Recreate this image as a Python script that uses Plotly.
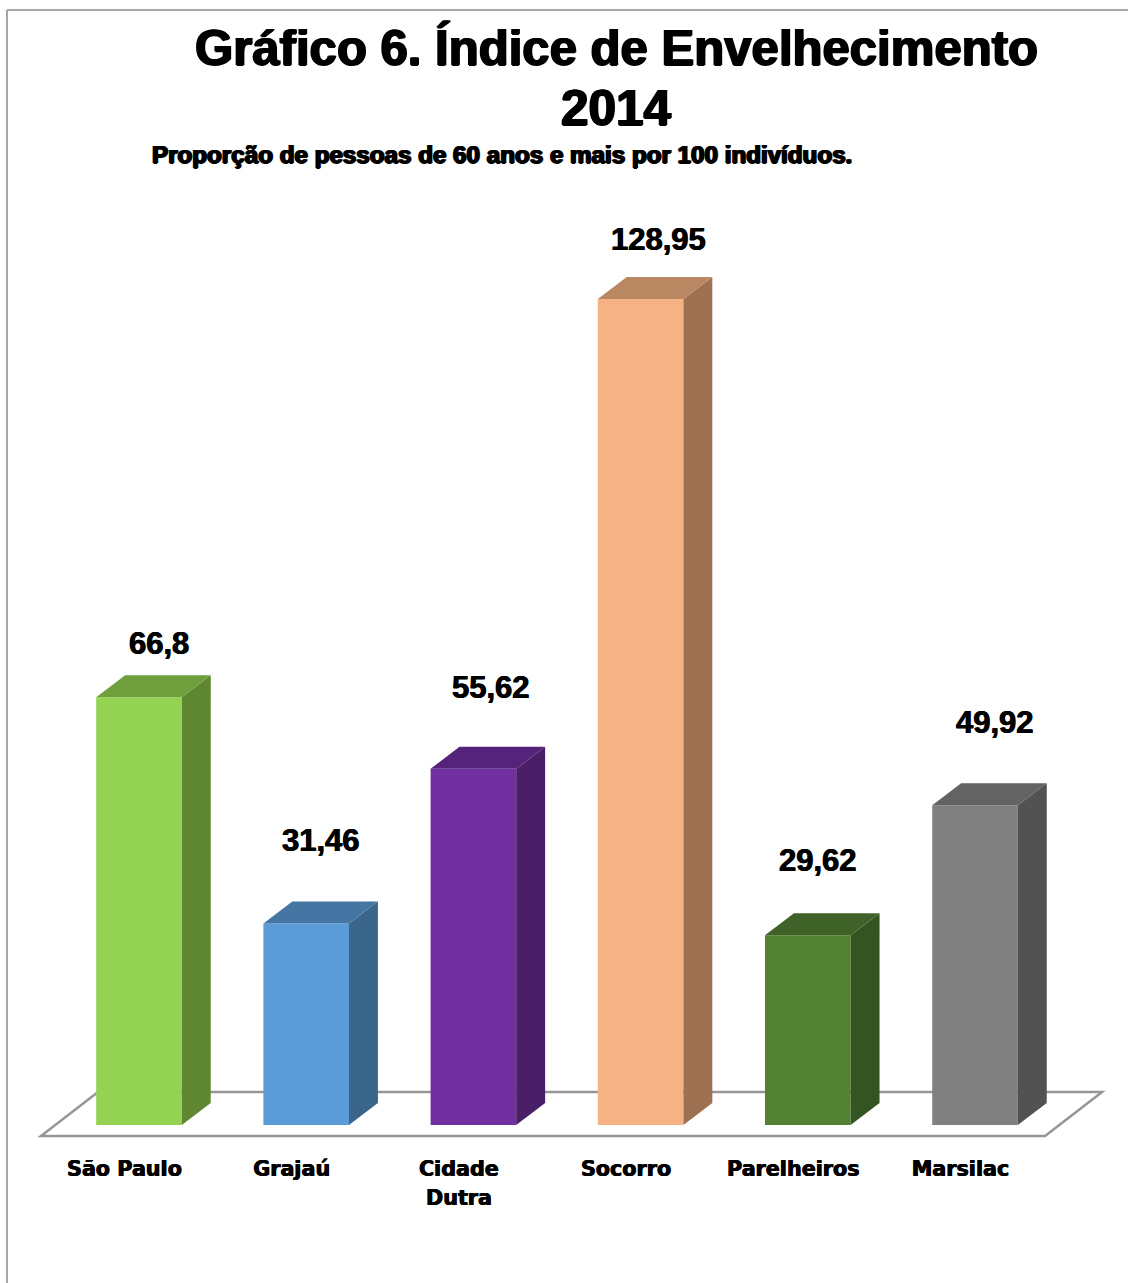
import plotly.graph_objects as go

# Chart data
categories = ["São Paulo", "Grajaú", "Cidade", "Socorro", "Parelheiros", "Marsilac"]
values = [66.8, 31.46, 55.62, 128.95, 29.62, 49.92]

front_colors = ["#94D351", "#5B9BD7", "#7030A0", "#F4B285", "#548235", "#808080"]
top_colors = ["#70A03D", "#4576A3", "#55247A", "#BA8763", "#3F6228", "#636363"]
side_colors = ["#5F8732", "#3A668C", "#4A1F67", "#9E7153", "#345522", "#525252"]

# Geometry of the extruded columns, in axis units
BAR_WIDTH = 0.512
DEPTH_X = 0.173
DEPTH_Y = 3.43
X_RANGE = [-0.8313, 5.915]
Y_RANGE = [-2.342, 175.64]

# Offsets of the value labels and axis labels, in pixels and axis units
label_dx = [20, 15, 18, 18, 10, 20]
label_dy = [54, 83, 81, 60, 75, 83]
tick_shift = -0.087

W, H = 1128, 1283
TXT = "black"
HEAVY = "1px 0 0 black, -1px 0 0 black, 0 0.5px 0 black"
MEDIUM = "0.5px 0 0 black, -0.5px 0 0 black"
AXIS_FONT = dict(family="DejaVu Sans", size=20.7, color=TXT, weight="bold", shadow=MEDIUM)

xs = list(range(len(categories)))
fig = go.Figure()

# Front faces
fig.add_trace(go.Bar(
    x=xs, y=values, width=BAR_WIDTH,
    marker=dict(color=front_colors, line=dict(width=0)),
    showlegend=False, hoverinfo="x+y",
))

# Side and top faces derived from each value
for x, v, top, side in zip(xs, values, top_colors, side_colors):
    r = x + BAR_WIDTH / 2
    l = x - BAR_WIDTH / 2
    fig.add_trace(go.Scatter(
        x=[r, r + DEPTH_X, r + DEPTH_X, r, r],
        y=[0, DEPTH_Y, v + DEPTH_Y, v, 0],
        mode="lines", fill="toself", fillcolor=side,
        line=dict(width=0), showlegend=False, hoverinfo="skip",
    ))
    fig.add_trace(go.Scatter(
        x=[l, r, r + DEPTH_X, l + DEPTH_X, l],
        y=[v, v, v + DEPTH_Y, v + DEPTH_Y, v],
        mode="lines", fill="toself", fillcolor=top,
        line=dict(width=0), showlegend=False, hoverinfo="skip",
    ))

# Value labels
annotations = []
for x, v, dx, dy in zip(xs, values, label_dx, label_dy):
    annotations.append(dict(
        x=x, y=v, xref="x", yref="y", xshift=dx, yshift=dy,
        text=str(v).replace(".", ","), showarrow=False,
        xanchor="center", yanchor="middle",
        font=dict(family="Liberation Sans", size=31, color=TXT, weight="bold",
                  shadow=MEDIUM),
    ))

# Title block
def page_text(text, cx, cy, size):
    return dict(
        x=cx / W, y=1 - cy / H, xref="paper", yref="paper", text=text,
        showarrow=False, xanchor="center", yanchor="middle",
        font=dict(family="Liberation Sans", size=size, color=TXT, weight="bold",
                  shadow=HEAVY),
    )

annotations += [
    page_text("Gráfico 6. Índice de Envelhecimento", 616.5, 48, 49.1),
    page_text("2014", 616, 108, 49.5),
    page_text("Proporção de pessoas de 60 anos e mais por 100 indivíduos.", 501.5, 155, 24.2),
]

# Second line of the wrapped category label
annotations.append(dict(
    x=2 + tick_shift, y=0, xref="x", yref="y", yshift=-73,
    text="Dutra", showarrow=False, xanchor="center", yanchor="middle",
    font=AXIS_FONT,
))

# Floor of the 3D plot, behind the columns
floor_y0, floor_y1 = -1.717, 5.152
floor_path = f"M -0.586 {floor_y0} L 5.419 {floor_y0} L 5.76 {floor_y1} L -0.245 {floor_y1} Z"

shapes = [
    dict(type="path", path=floor_path, xref="x", yref="y", layer="below",
         line=dict(color="#969696", width=2.5), fillcolor="white"),
    dict(type="line", xref="paper", yref="paper", x0=7 / W, x1=7 / W, y0=0, y1=1 - 10 / H,
         line=dict(color="#A6A6A6", width=2)),
    dict(type="line", xref="paper", yref="paper", x0=7 / W, x1=1, y0=1 - 10 / H, y1=1 - 10 / H,
         line=dict(color="#A6A6A6", width=2)),
]

fig.update_layout(
    width=W, height=H, autosize=False,
    margin=dict(l=0, r=0, t=0, b=0),
    paper_bgcolor="white", plot_bgcolor="white",
    annotations=annotations, shapes=shapes,
    xaxis=dict(
        range=X_RANGE, showgrid=False, zeroline=False, showline=False,
        tickmode="array", tickvals=[x + tick_shift for x in xs], ticktext=categories,
        ticks="", ticklabelstandoff=14,
        tickfont=AXIS_FONT,
    ),
    yaxis=dict(
        range=Y_RANGE, domain=[143 / H, 1], showgrid=False, zeroline=False,
        showline=False, showticklabels=False, ticks="",
    ),
)

fig.write_html("out.html", config=dict(displayModeBar=False))
